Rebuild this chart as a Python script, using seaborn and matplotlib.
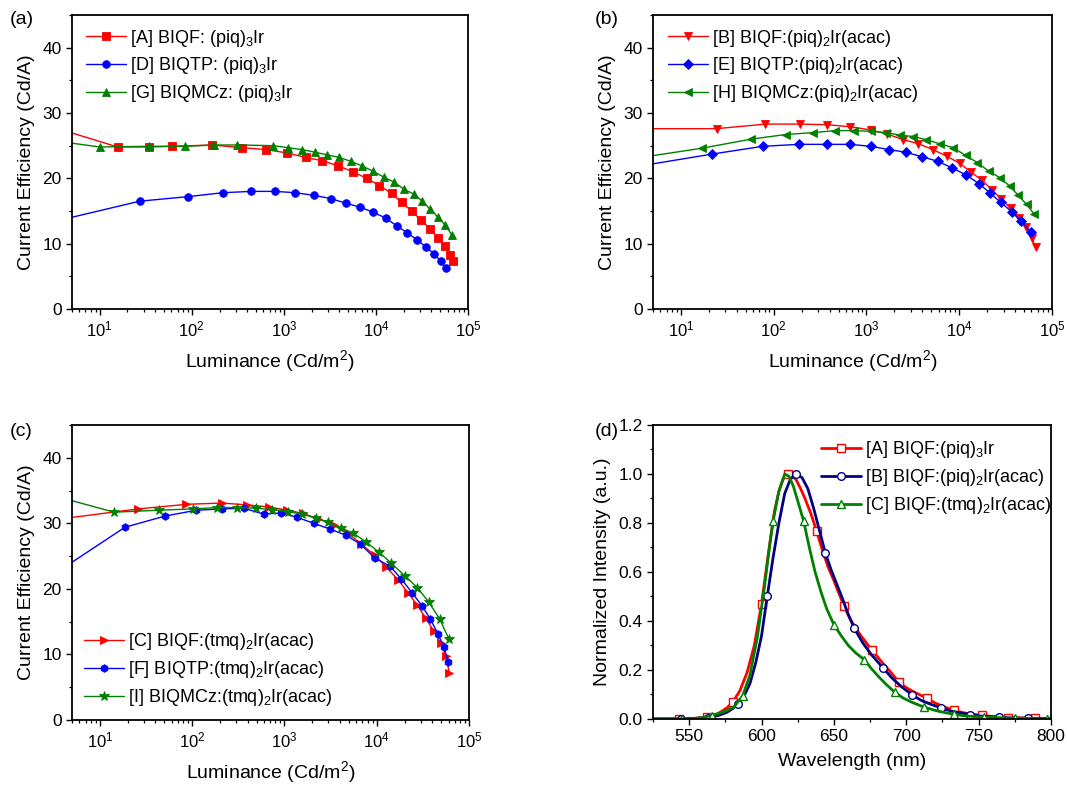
import matplotlib
import numpy as np
import pandas as pd
import seaborn as sns

matplotlib.use("Agg")
import matplotlib.pyplot as plt
from matplotlib.ticker import FormatStrFormatter, LogLocator, MultipleLocator, NullFormatter

# ---- panel (a): (piq)3Ir devices ----
A_LUM = [3, 15.6, 34.3, 61.6, 166, 347, 632, 1069, 1720, 2613, 3900, 5630, 7920, 10880,
         14800, 19000, 24400, 30800, 38600, 46800, 56200, 63700, 68100]
A_EFF = [27.9, 24.8, 24.8, 24.9, 25.1, 24.7, 24.4, 23.9, 23.2, 22.7, 21.9, 21.0, 20.0, 18.9,
         17.7, 16.3, 15.0, 13.6, 12.3, 10.9, 9.6, 8.3, 7.3]
D_LUM = [3, 27.2, 91.2, 219, 445, 799, 1328, 2100, 3243, 4680, 6697, 9350, 12850, 16910,
         21730, 27900, 34940, 43050, 50880, 57680]
D_EFF = [13.3, 16.5, 17.2, 17.8, 18.0, 18.0, 17.8, 17.4, 16.9, 16.2, 15.6, 14.8, 13.9, 12.7,
         11.7, 10.6, 9.5, 8.4, 7.3, 6.2]
G_LUM = [3, 10, 34.3, 85.3, 173, 306, 754, 1105, 1570, 2174, 2933, 3993, 5346, 7046, 9275,
         12110, 15820, 20320, 25650, 31900, 38600, 46800, 56200, 66400]
G_EFF = [25.8, 24.8, 24.9, 24.9, 25.1, 25.1, 25.0, 24.7, 24.4, 24.0, 23.6, 23.2, 22.6, 21.9,
         21.1, 20.2, 19.4, 18.3, 17.6, 16.5, 15.3, 14.1, 12.9, 11.4]

# ---- panel (b): (piq)2Ir(acac) devices ----
B_LUM = [3, 24.3, 81.3, 191, 378, 666, 1114, 1660, 2495, 3628, 5189, 7295, 10090, 13500,
         17600, 22580, 28500, 35960, 43940, 52270, 60250, 66530]
B_EFF = [27.6, 27.6, 28.3, 28.3, 28.2, 27.9, 27.4, 26.8, 25.9, 25.3, 24.4, 23.4, 22.3, 20.9,
         19.7, 18.2, 16.8, 15.4, 13.9, 12.6, 10.9, 9.5]
E_LUM = [3, 21.5, 76.0, 187, 372, 660, 1114, 1730, 2643, 3971, 5870, 8333, 11920, 16200,
         21300, 28050, 36600, 46200, 59300]
E_EFF = [21.7, 23.7, 24.9, 25.2, 25.2, 25.2, 24.9, 24.4, 24.0, 23.3, 22.6, 21.6, 20.5, 19.2,
         17.8, 16.3, 14.9, 13.4, 11.8]
H_LUM = [3, 16.7, 57.3, 134, 267, 458, 735, 1114, 1620, 2315, 3202, 4393, 6124, 8540, 11720,
         15670, 20790, 27360, 35100, 43180, 53180, 64380]
H_EFF = [23.0, 24.6, 26.0, 26.7, 27.0, 27.3, 27.3, 27.2, 27.0, 26.6, 26.4, 25.9, 25.3, 24.7,
         23.5, 22.4, 21.1, 20.1, 18.8, 17.4, 16.0, 14.5]

# ---- panel (c): (tmq)2Ir(acac) devices ----
C_LUM = [3, 26.0, 86.9, 211, 397, 682, 1077, 1592, 2315, 3423, 4894, 6826, 9510, 12720,
         17030, 21850, 27560, 33940, 41420, 49320, 56860, 60750]
C_EFF = [30.5, 32.2, 32.9, 33.1, 32.8, 32.5, 32.0, 31.5, 30.7, 29.7, 28.5, 26.8, 25.1, 23.3,
         21.4, 19.4, 17.5, 15.5, 13.6, 11.7, 9.7, 7.2]
F_LUM = [3, 18.7, 50.6, 111, 213, 363, 598, 920, 1384, 2080, 3148, 4616, 6711, 9510, 13830,
         18500, 24140, 30980, 38120, 46130, 53180, 59300]
F_EFF = [22.0, 29.4, 31.1, 32.0, 32.2, 32.3, 31.4, 31.6, 30.9, 30.0, 29.1, 28.2, 26.8, 24.7,
         23.5, 21.5, 19.4, 17.4, 15.4, 13.1, 11.2, 8.9]
I_LUM = [3, 14.3, 43.5, 101, 188, 307, 497, 742, 1096, 1542, 2184, 2972, 4074, 5542, 7603,
         10600, 14420, 20110, 27560, 36560, 48100, 60270]
I_EFF = [34.3, 31.7, 32.0, 32.2, 32.4, 32.4, 32.3, 32.1, 31.8, 31.4, 30.8, 30.2, 29.3, 28.5,
         27.2, 25.6, 23.9, 22.0, 20.2, 18.0, 15.4, 12.4]

# ---- panel (d): EL spectra ----
SA_NM = [525, 543, 552, 562, 570, 576, 580, 585, 590, 595, 600, 603, 606, 609, 612, 615, 618,
         621, 624, 627, 630, 634, 638, 642, 646, 650, 657, 662, 668, 676, 682, 688, 695, 700,
         706, 714, 720, 726, 733, 740, 746, 752, 760, 770, 780, 789, 800]
SA_VAL = [0.0, 0.0, 0.002, 0.008, 0.022, 0.045, 0.068, 0.115, 0.19, 0.30, 0.47, 0.60, 0.73,
          0.85, 0.93, 0.98, 1.0, 0.995, 0.975, 0.94, 0.90, 0.84, 0.768, 0.69, 0.62, 0.565,
          0.46, 0.40, 0.345, 0.283, 0.24, 0.20, 0.15, 0.128, 0.108, 0.086, 0.065, 0.05, 0.035,
          0.025, 0.019, 0.015, 0.01, 0.006, 0.004, 0.003, 0.002]
SA_MARK = [543, 562, 580, 600, 618, 638, 657, 676, 695, 714, 733, 752, 770, 789]

SB_NM = [525, 544, 554, 563, 570, 576, 580, 584, 588, 592, 596, 600, 604, 608, 612, 616, 620,
         624, 628, 632, 636, 640, 644, 648, 652, 656, 660, 664, 670, 676, 684, 690, 697, 704,
         710, 716, 724, 730, 737, 744, 752, 764, 774, 784, 800]
SB_VAL = [0.0, 0.0, 0.002, 0.006, 0.014, 0.027, 0.042, 0.062, 0.095, 0.145, 0.23, 0.34, 0.503,
          0.66, 0.80, 0.92, 0.98, 1.0, 0.985, 0.94, 0.86, 0.77, 0.679, 0.61, 0.55, 0.49, 0.425,
          0.371, 0.31, 0.262, 0.208, 0.168, 0.13, 0.099, 0.077, 0.062, 0.045, 0.034, 0.025,
          0.018, 0.012, 0.007, 0.004, 0.003, 0.002]
SB_MARK = [544, 563, 584, 604, 624, 644, 664, 684, 704, 724, 744, 764, 784]

SC_NM = [525, 545, 556, 566, 575, 581, 587, 592, 597, 602, 605, 608, 612, 616, 619, 622, 625,
         629, 633, 637, 641, 645, 650, 655, 660, 665, 671, 676, 681, 686, 692, 698, 704, 712,
         720, 726, 733, 740, 747, 754, 765, 775, 786, 797, 800]
SC_VAL = [0.0, 0.0, 0.003, 0.014, 0.032, 0.05, 0.095, 0.18, 0.33, 0.54, 0.68, 0.81, 0.93, 1.0,
          0.99, 0.95, 0.89, 0.81, 0.70, 0.60, 0.52, 0.45, 0.385, 0.34, 0.30, 0.27, 0.242,
          0.205, 0.172, 0.142, 0.109, 0.085, 0.068, 0.049, 0.035, 0.027, 0.019, 0.013, 0.01,
          0.008, 0.005, 0.003, 0.002, 0.001, 0.001]
SC_MARK = [545, 566, 587, 608, 629, 650, 671, 692, 712, 733, 754, 775, 797]

LABELS_A = [r"[A] BIQF: (piq)$_3$Ir", r"[D] BIQTP: (piq)$_3$Ir", r"[G] BIQMCz: (piq)$_3$Ir"]
LABELS_B = [r"[B] BIQF:(piq)$_2$Ir(acac)", r"[E] BIQTP:(piq)$_2$Ir(acac)",
            r"[H] BIQMCz:(piq)$_2$Ir(acac)"]
LABELS_C = [r"[C] BIQF:(tmq)$_2$Ir(acac)", r"[F] BIQTP:(tmq)$_2$Ir(acac)",
            r"[I] BIQMCz:(tmq)$_2$Ir(acac)"]
LABELS_D = [r"[A] BIQF:(piq)$_3$Ir", r"[B] BIQF:(piq)$_2$Ir(acac)", r"[C] BIQF:(tmq)$_2$Ir(acac)"]

RED, BLUE, GREEN, NAVY = "#ff0000", "#0000ff", "#008000", "#000080"

sns.set_style("ticks")
plt.rcParams["font.family"] = ["Liberation Sans", "DejaVu Sans"]
plt.rcParams["mathtext.default"] = "regular"
plt.rcParams.update({
    "axes.linewidth": 1.3,
    "xtick.direction": "out", "ytick.direction": "out",
    "xtick.major.size": 4, "ytick.major.size": 4,
    "xtick.minor.size": 2.2, "ytick.minor.size": 2.2,
    "xtick.major.width": 1.0, "ytick.major.width": 1.0,
    "xtick.minor.width": 0.9, "ytick.minor.width": 0.9,
    "xtick.labelsize": 12, "ytick.labelsize": 12.5,
    "axes.labelsize": 14,
    "xtick.color": "black", "ytick.color": "black",
    "axes.edgecolor": "black", "text.color": "black", "axes.labelcolor": "black",
})

LEGEND_KW = dict(frameon=False, fontsize=13, handlelength=2.2, handletextpad=0.25,
                 borderpad=0, borderaxespad=0, labelspacing=0.38)


def efficiency_panel(ax, series, labels, legend_loc, legend_anchor):
    for (lum, eff, color, marker), label in zip(series, labels):
        df = pd.DataFrame({"lum": lum, "eff": eff})
        sns.lineplot(data=df, x="lum", y="eff", ax=ax, color=color, marker=marker,
                     markersize=5.5 if marker != "*" else 7, mec=color, mew=0.6, lw=1.0,
                     label=label, sort=False, estimator=None)
    ax.set_xscale("log")
    ax.set_xlim(5, 1e5)
    ax.set_ylim(0, 45)
    ax.yaxis.set_major_locator(MultipleLocator(10))
    ax.yaxis.set_minor_locator(MultipleLocator(5))
    ax.xaxis.set_major_locator(LogLocator(base=10, numticks=10))
    ax.xaxis.set_minor_locator(LogLocator(base=10, subs=np.arange(2, 10), numticks=20))
    ax.xaxis.set_minor_formatter(NullFormatter())
    ax.set_xlabel("Luminance (Cd/m$^2$)", labelpad=6)
    ax.set_ylabel("Current Efficiency (Cd/A)", labelpad=5)
    ax.legend(loc=legend_loc, bbox_to_anchor=legend_anchor, **LEGEND_KW)


def main() -> None:
    fig = plt.figure(figsize=(10.67, 7.85), dpi=100)
    ax_a = fig.add_axes([0.0675, 0.6064, 0.3711, 0.3745])
    ax_b = fig.add_axes([0.612, 0.6064, 0.374, 0.3745])
    ax_c = fig.add_axes([0.0675, 0.0828, 0.3721, 0.3758])
    ax_d = fig.add_axes([0.612, 0.0841, 0.373, 0.3745])

    efficiency_panel(ax_a, [(A_LUM, A_EFF, RED, "s"), (D_LUM, D_EFF, BLUE, "o"),
                            (G_LUM, G_EFF, GREEN, "^")], LABELS_A, "upper left", (0.035, 0.957))
    efficiency_panel(ax_b, [(B_LUM, B_EFF, RED, "v"), (E_LUM, E_EFF, BLUE, "D"),
                            (H_LUM, H_EFF, GREEN, "<")], LABELS_B, "upper left", (0.038, 0.957))
    efficiency_panel(ax_c, [(C_LUM, C_EFF, RED, ">"), (F_LUM, F_EFF, BLUE, "h"),
                            (I_LUM, I_EFF, GREEN, "*")], LABELS_C, "lower left", (0.03, 0.04))

    for nm, val, mark, color, marker, label in [
        (SA_NM, SA_VAL, SA_MARK, RED, "s", LABELS_D[0]),
        (SB_NM, SB_VAL, SB_MARK, NAVY, "o", LABELS_D[1]),
        (SC_NM, SC_VAL, SC_MARK, GREEN, "^", LABELS_D[2]),
    ]:
        df = pd.DataFrame({"nm": nm, "val": val})
        idx = list(np.flatnonzero(np.isin(nm, mark)))
        sns.lineplot(data=df, x="nm", y="val", ax=ax_d, color=color, lw=2.0, marker=marker,
                     markevery=idx, markersize=5.5, mfc="white", mec=color, mew=1.0,
                     label=label, sort=False, estimator=None)
    ax_d.set_xlim(525, 800)
    ax_d.set_ylim(0, 1.2)
    ax_d.xaxis.set_major_locator(MultipleLocator(50))
    ax_d.xaxis.set_minor_locator(MultipleLocator(25))
    ax_d.yaxis.set_major_locator(MultipleLocator(0.2))
    ax_d.yaxis.set_minor_locator(MultipleLocator(0.1))
    ax_d.yaxis.set_major_formatter(FormatStrFormatter("%.1f"))
    ax_d.tick_params(axis="x", labelsize=12.5)
    ax_d.set_xlabel("Wavelength (nm)", labelpad=6)
    ax_d.set_ylabel("Normalized Intensity (a.u.)", labelpad=5)
    ax_d.legend(loc="upper left", bbox_to_anchor=(0.422, 0.952), **LEGEND_KW)

    for ax in (ax_a, ax_b, ax_c, ax_d):
        for side in ("top", "right"):
            ax.spines[side].set_visible(True)
        ax.tick_params(which="both", top=False, right=False)

    fig.text(0.009, 0.97, "(a)", fontsize=14)
    fig.text(0.557, 0.97, "(b)", fontsize=14)
    fig.text(0.009, 0.445, "(c)", fontsize=14)
    fig.text(0.557, 0.445, "(d)", fontsize=14)

    fig.savefig("out.png", dpi=100)
    plt.close(fig)


if __name__ == "__main__":
    main()
